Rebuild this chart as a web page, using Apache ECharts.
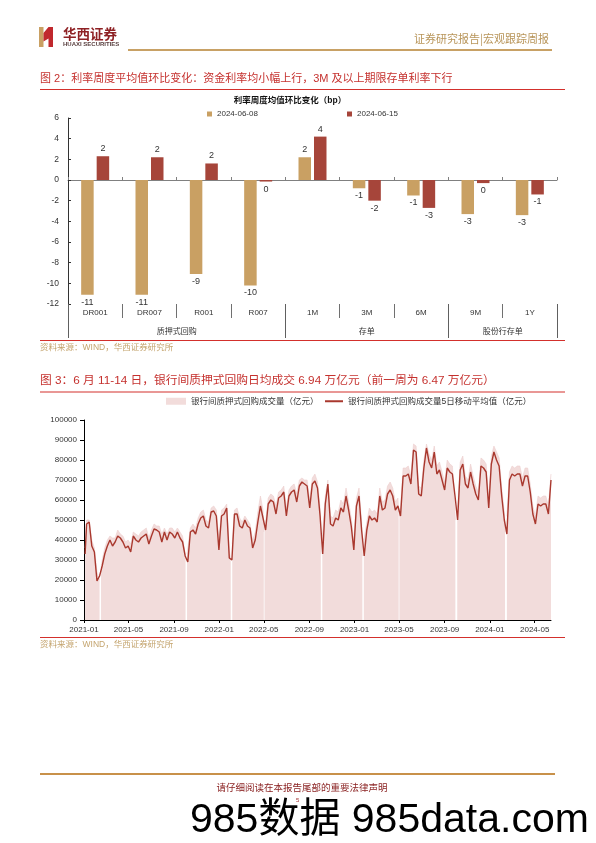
<!DOCTYPE html>
<html><head><meta charset="utf-8">
<script src="https://cdn.jsdelivr.net/npm/echarts@6/dist/echarts.min.js"></script>
<style>html,body{margin:0;padding:0;background:#fff}#c{width:596px;height:843px}</style>
</head><body><div id="c"></div>
<script>
// ---------- Figure 2 data ----------
const categories = ['DR001','DR007','R001','R007','1M','3M','6M','9M','1Y'];
const groupNames = ['质押式回购','存单','股份行存单'];
const groupSizes = [4, 3, 2];
const seriesNames = ['2024-06-08','2024-06-15'];
const s0608 = [-11.1, -11.1, -9.1, -10.2, 2.2, -0.8, -1.5, -3.3, -3.4];
const s0615 = [2.3, 2.2, 1.6, -0.15, 4.2, -2.0, -2.7, -0.3, -1.4];
const yTicks1 = [-12, 6, 2]; // min, max, interval

// ---------- Figure 3 data ----------
const weekStart = '2021-01-08'; // one reading per week (Fridays)
const maFirst = ['2021-01-04', 33000]; // first trading day reading
const maWeekly = [
 48000,49000,37000,34000,19500,22000,27000,33000,37000,40000,
 37000,39000,42000,41000,39000,36000,37000,34000,42000,40000,
 39000,41000,42000,43000,38000,42000,45500,45000,44000,39000,
 44000,40000,44000,43000,41000,44000,41000,39000,32000,29000,
 44000,45000,43000,48000,51000,52000,47000,46000,54000,54500,
 52000,35000,52000,53000,56000,31000,30000,53000,53000,47000,
 46000,50000,47000,46000,36000,40000,49000,57000,51000,45000,
 58000,60000,59000,53000,61000,62000,64000,52000,62000,64000,
 65000,59000,67000,69000,68000,67000,56000,68000,69500,66000,
 52000,33000,58000,68000,48000,47000,51000,50000,56000,54000,
 62000,55000,47000,35000,57000,62000,45000,32000,45000,52000,
 50000,51000,49000,62000,55000,56000,63000,65000,62000,55000,
 57000,52000,72000,72000,73000,68000,85000,84000,63000,62000,
 76000,86000,79000,76000,84000,73000,75000,70000,65000,76000,
 74000,73000,62000,50000,75000,78000,68000,66000,74000,68000,
 63000,60000,77000,76000,74000,56000,78000,84000,80000,77000,
 62000,50000,43000,70000,73000,72000,73000,73000,67000,72000,
 72000,64000,53000,48000,58000,57000,58000,58000,53000,70000
];
const volFirst = ['2021-01-04', 36000];
const volWeekly = [
 50000,50000,40000,36000,24000,25000,30000,36000,40000,42000,
 41000,41000,45000,43000,42000,39000,40000,38000,44000,43000,
 42000,44000,45000,46000,41000,45000,48000,47000,47000,43000,
 46000,43000,46000,46000,44000,46000,44000,42000,36000,33000,
 46000,48000,46000,51000,54000,55000,50000,49000,56000,57000,
 55000,40000,55000,56000,58000,35000,34000,55000,56000,51000,
 49000,52000,50000,48000,40000,44000,54000,62000,55000,49000,
 61000,63000,62000,57000,64000,65000,67000,56000,65000,67000,
 68000,63000,70000,71000,70000,70000,60000,71000,73000,69000,
 56000,37000,62000,70000,52000,51000,55000,54000,60000,58000,
 66000,59000,51000,39000,61000,66000,49000,36000,49000,56000,
 54000,55000,53000,66000,59000,60000,67000,69000,66000,59000,
 61000,56000,76000,76000,77000,72000,88000,87000,67000,66000,
 80000,88000,83000,80000,87000,77000,79000,74000,69000,80000,
 78000,77000,66000,54000,79000,82000,72000,70000,78000,72000,
 67000,64000,81000,80000,78000,60000,82000,87000,84000,81000,
 66000,54000,47000,74000,77000,76000,77000,77000,71000,76000,
 76000,68000,57000,52000,62000,61000,62000,62000,57000,73000
];
// market closures: [first closed day, last closed day, volume before, volume after]
const holidayGaps = [
 ['2021-02-11','2021-02-17',20000,26000],
 ['2021-10-01','2021-10-07',31000,33000],
 ['2022-01-31','2022-02-06',30000,38000],
 ['2022-04-30','2022-05-04',44000,46000],
 ['2022-10-01','2022-10-07',33000,42000],
 ['2023-01-21','2023-01-27',32000,40000],
 ['2023-04-29','2023-05-03',54000,52000],
 ['2023-09-29','2023-10-06',50000,52000],
 ['2024-02-10','2024-02-17',44000,52000]
];
const xAxisMin = '2021-01-01', xAxisMax = '2024-06-14';
const xTickLabels = ['2021-01','2021-05','2021-09','2022-01','2022-05','2022-09','2023-01','2023-05','2023-09','2024-01','2024-05'];
const yTicks2 = [0, 100000, 10000];

// ---------- build ----------
const DAY = 86400000;
function ts(s){ const p = s.split('-').map(Number); return Date.UTC(p[0], p[1]-1, p[2] || 1); }
const w0 = ts(weekStart);
const maData = [[ts(maFirst[0]), maFirst[1]]].concat(maWeekly.map((v,i) => [w0 + 7*DAY*i, v]));
let volData = [[ts(volFirst[0]), volFirst[1]]];
volWeekly.forEach((v,i) => {
  const t = w0 + 7*DAY*i;
  const inGap = holidayGaps.some(g => t >= ts(g[0]) && t <= ts(g[1]));
  if (!inGap) volData.push([t, v]);
});
holidayGaps.forEach(g => {
  const a = ts(g[0]), b = ts(g[1]);
  volData.push([a + DAY, g[2]]);
  volData.push([(a + b)/2, '-']);
  volData.push([b - DAY, g[3]]);
});
volData.sort((p,q) => p[0]-q[0]);

const bounds = [0]; groupSizes.forEach(s => bounds.push(bounds[bounds.length-1] + s));
const centers = groupSizes.map((s,i) => bounds[i] + s/2);

const FONT = '"Liberation Sans", "Noto Sans CJK SC", sans-serif';
const CJK = '"Noto Sans CJK SC", sans-serif';
const GOLD_BAR = '#C9A063', RED_BAR = '#A6453A';
const RED = '#D3302C';
const TITLE_RED = '#C5312E';
const GOLD = '#B8955A';

function barData(arr){
  return arr.map(v => ({value: v, label: {position: v < 0 ? 'bottom' : 'top'}}));
}
const barLabel = {show: true, fontSize: 9, color: '#333', distance: 3, fontFamily: FONT,
  formatter: p => String(Math.round(p.value))};

function txt(x, y, text, font, fill, align){
  return {type: 'text', silent: true, x: x, y: y,
    style: {text: text, font: font, fill: fill, align: align || 'left', verticalAlign: 'middle',
            textAlign: align || 'left', textVerticalAlign: 'middle'}};
}
function hline(x1, x2, y, color, w){
  return {type: 'line', silent: true, shape: {x1: x1, y1: y, x2: x2, y2: y}, style: {stroke: color, lineWidth: w}};
}
function fmtMonth(v){ const d = new Date(v); return d.getUTCFullYear() + '-' + String(d.getUTCMonth()+1).padStart(2,'0'); }

const chart = echarts.init(document.getElementById('c'), null, {renderer: 'canvas'});
const option = {
  animation: false,
  backgroundColor: '#fff',
  textStyle: {fontFamily: FONT},
  grid: [
    {left: 68, top: 118, width: 489, height: 186, containLabel: false},
    {left: 84, top: 420, width: 467, height: 200, containLabel: false}
  ],
  legend: [
    {data: [seriesNames[0]], left: 207, top: 110, padding: 0, itemWidth: 5, itemHeight: 5, icon: 'rect',
     textStyle: {fontSize: 8, color: '#333', fontFamily: FONT}},
    {data: [seriesNames[1]], left: 347, top: 110, padding: 0, itemWidth: 5, itemHeight: 5, icon: 'rect',
     textStyle: {fontSize: 8, color: '#333', fontFamily: FONT}},
    {data: [{name: '银行间质押式回购成交量（亿元）', icon: 'rect'}], left: 166, top: 397, padding: 0,
     itemWidth: 20, itemHeight: 7, textStyle: {fontSize: 8.5, color: '#333', fontFamily: FONT}},
    {data: [{name: '银行间质押式回购成交量5日移动平均值（亿元）', icon: 'rect'}], left: 325, top: 397, padding: 0,
     itemWidth: 18, itemHeight: 2, textStyle: {fontSize: 8.5, color: '#333', fontFamily: FONT}}
  ],
  xAxis: [
    {type: 'category', gridIndex: 0, data: categories, boundaryGap: true,
     axisLine: {onZero: true, lineStyle: {color: '#808080', width: 1}},
     axisTick: {show: true, inside: true, length: 3, lineStyle: {color: '#808080'}},
     axisLabel: {show: false}, splitLine: {show: false}},
    {type: 'category', gridIndex: 0, data: categories, position: 'bottom', boundaryGap: true,
     axisLine: {show: false, onZero: false},
     axisTick: {show: true, length: 14, lineStyle: {color: '#707070'}},
     axisLabel: {show: true, fontSize: 8, color: '#333', margin: 5, interval: 0}, splitLine: {show: false}},
    {type: 'value', gridIndex: 0, min: bounds[0], max: bounds[bounds.length-1], position: 'bottom',
     axisLine: {show: false, onZero: false}, splitLine: {show: false},
     axisTick: {show: true, length: 34, customValues: bounds, lineStyle: {color: '#606060'}},
     axisLabel: {show: true, customValues: centers, margin: 23, fontSize: 8, color: '#333', fontFamily: CJK,
       formatter: v => groupNames[centers.indexOf(v)] || ''}},
    {type: 'value', gridIndex: 1, min: ts(xAxisMin), max: ts(xAxisMax),
     axisLine: {show: true, onZero: false, lineStyle: {color: '#000', width: 1}},
     axisTick: {show: true, length: 3, customValues: xTickLabels.map(ts), lineStyle: {color: '#000'}},
     axisLabel: {show: true, customValues: xTickLabels.map(ts), formatter: fmtMonth, fontSize: 8, color: '#333', margin: 6},
     splitLine: {show: false}}
  ],
  yAxis: [
    {type: 'value', gridIndex: 0, min: yTicks1[0], max: yTicks1[1], interval: yTicks1[2],
     axisLine: {show: true, lineStyle: {color: '#333', width: 1}},
     axisTick: {show: true, inside: true, length: 3, lineStyle: {color: '#333'}},
     axisLabel: {fontSize: 8.5, color: '#333', margin: 9, formatter: v => String(v)}, splitLine: {show: false}},
    {type: 'value', gridIndex: 1, min: yTicks2[0], max: yTicks2[1], interval: yTicks2[2],
     axisLine: {show: true, lineStyle: {color: '#000', width: 1}},
     axisTick: {show: true, length: 4, lineStyle: {color: '#000'}},
     axisLabel: {fontSize: 8, color: '#333', margin: 7, formatter: v => String(v)}, splitLine: {show: false}}
  ],
  series: [
    {name: seriesNames[0], type: 'bar', xAxisIndex: 0, yAxisIndex: 0, data: barData(s0608),
     barWidth: 12.5, barGap: '24%', itemStyle: {color: GOLD_BAR}, label: barLabel},
    {name: seriesNames[1], type: 'bar', xAxisIndex: 0, yAxisIndex: 0, data: barData(s0615),
     barWidth: 12.5, barGap: '24%', itemStyle: {color: RED_BAR}, label: barLabel},
    {name: '银行间质押式回购成交量（亿元）', type: 'line', xAxisIndex: 3, yAxisIndex: 1, data: volData,
     symbol: 'none', showSymbol: false, connectNulls: false, z: 1,
     lineStyle: {width: 0.6, color: '#EDCFCE'}, itemStyle: {color: '#F2DCDB'},
     areaStyle: {color: '#F2DCDB', opacity: 1}},
    {name: '银行间质押式回购成交量5日移动平均值（亿元）', type: 'line', xAxisIndex: 3, yAxisIndex: 1, data: maData,
     symbol: 'none', showSymbol: false, z: 3,
     lineStyle: {width: 1.4, color: '#A9382E'}, itemStyle: {color: '#A9382E'}}
  ],
  graphic: [
    {type: 'polygon', silent: true, shape: {points: [[39,27],[43.5,27],[43.5,47],[39,47]]}, style: {fill: '#C9A063'}},
    {type: 'polygon', silent: true, shape: {points: [[43.5,33],[48.5,27],[53,27],[53,47],[48.5,47],[48.5,38.5],[43.5,41.5]]}, style: {fill: '#C0282D'}},
    txt(63, 34, '华西证券', 'bold 13.5px ' + CJK, '#8E2124'),
    txt(63, 44.5, 'HUAXI SECURITIES', 'bold 6px "Liberation Sans", sans-serif', '#5a4040'),
    hline(128, 552, 50, '#C8A165', 2),
    txt(549, 39, '证券研究报告|宏观跟踪周报', '11px ' + CJK, GOLD, 'right'),
    txt(40, 79, '图 2：利率周度平均值环比变化：资金利率均小幅上行，3M 及以上期限存单利率下行', '11px ' + FONT, TITLE_RED),
    hline(40, 565, 89.5, RED, 1.2),
    txt(290, 101, '利率周度均值环比变化（bp）', 'bold 8.5px ' + FONT, '#111', 'center'),
    hline(40, 565, 340.5, RED, 1.2),
    txt(40, 348, '资料来源：WIND，华西证券研究所', '8.5px ' + FONT, '#C4A46E'),
    txt(40, 381, '图 3：6 月 11-14 日，银行间质押式回购日均成交 6.94 万亿元（前一周为 6.47 万亿元）', '11.75px ' + FONT, TITLE_RED),
    hline(40, 565, 392, RED, 1.2),
    hline(40, 565, 637.5, RED, 1.2),
    txt(40, 645, '资料来源：WIND，华西证券研究所', '8.5px ' + FONT, '#C4A46E'),
    hline(40, 555, 774, '#C8914A', 2),
    txt(302, 787, '请仔细阅读在本报告尾部的重要法律声明', '9.5px ' + CJK, '#8B2323', 'center'),
    txt(190, 821, '985数据 985data.com', '41px ' + FONT, '#000'),
    txt(296, 800, '5', '6px ' + FONT, '#A03030')
  ]
};
chart.setOption(option);
</script></body></html>
